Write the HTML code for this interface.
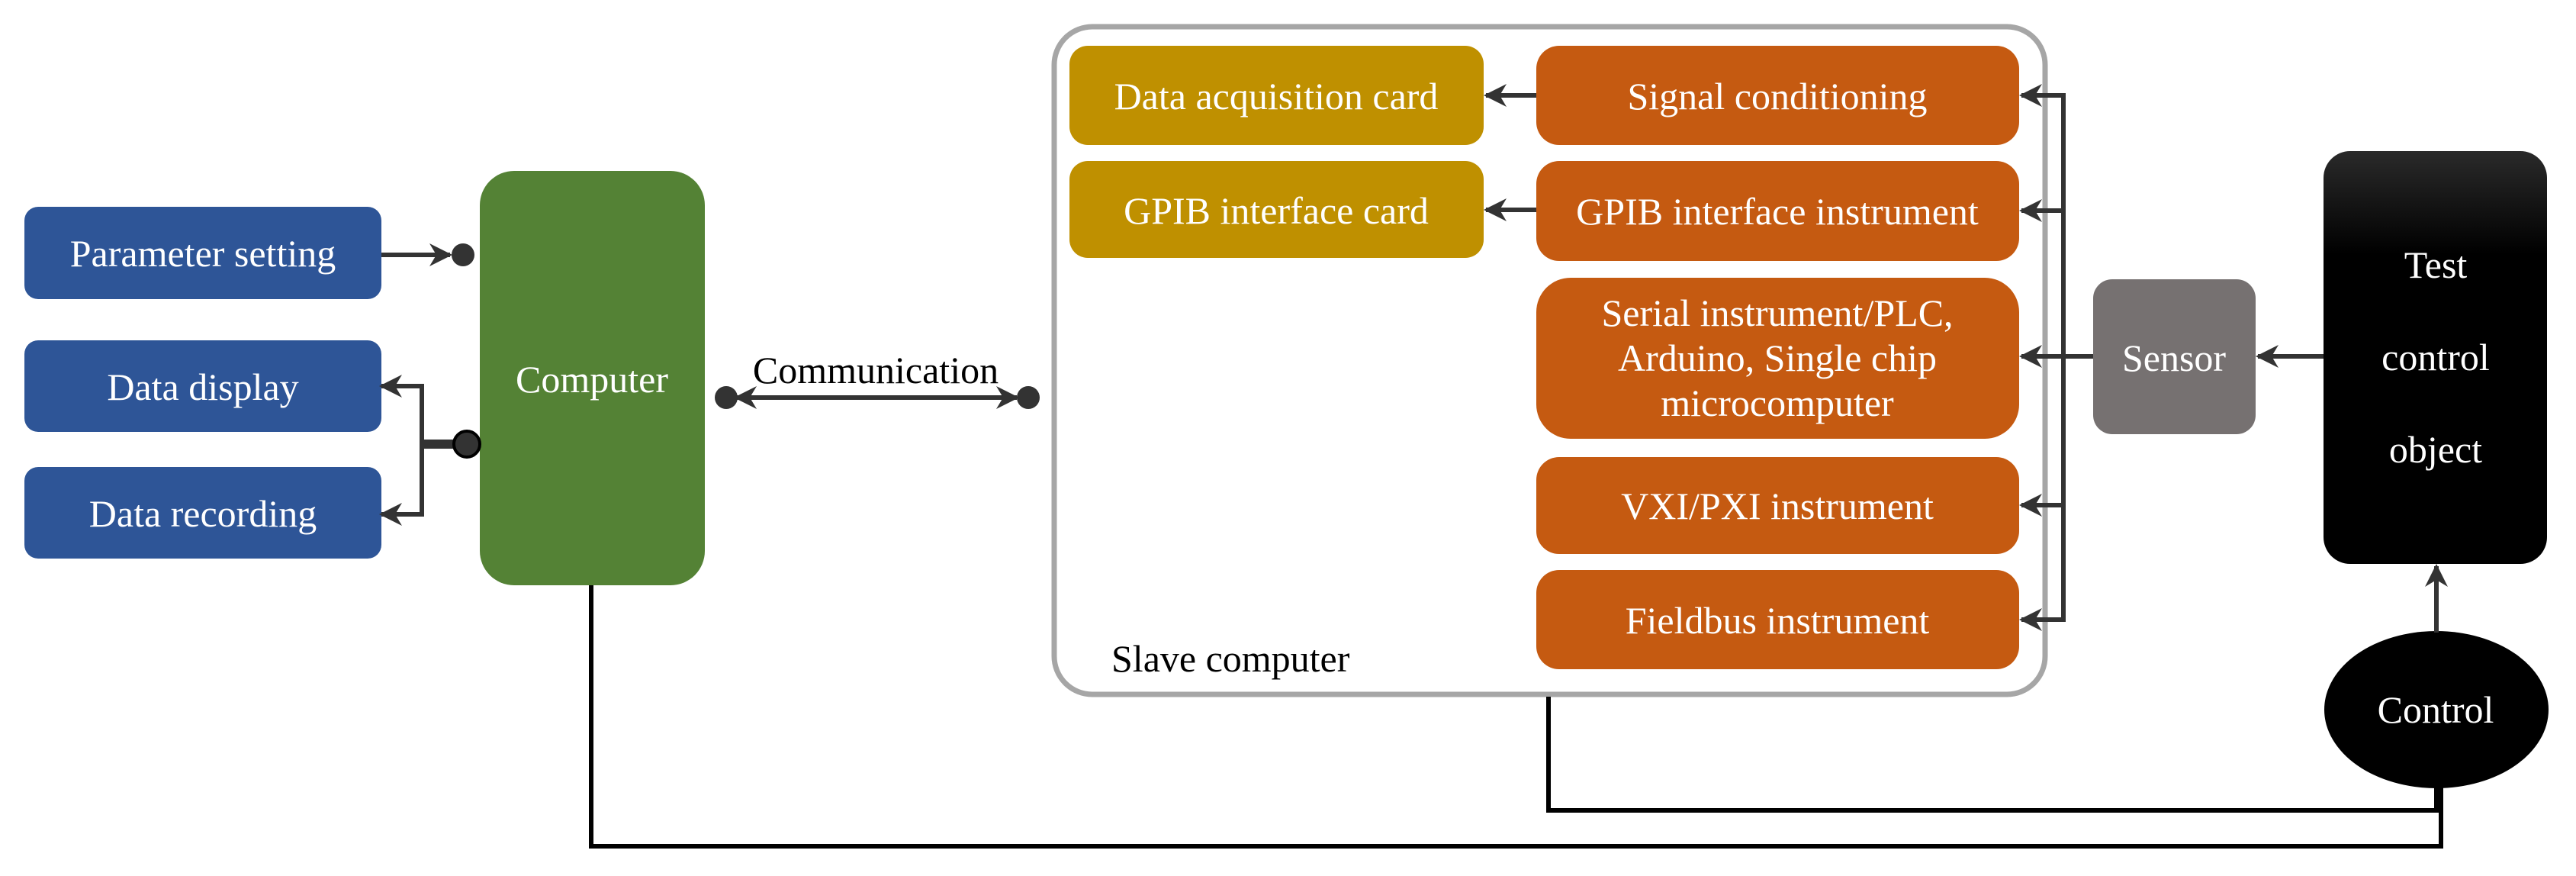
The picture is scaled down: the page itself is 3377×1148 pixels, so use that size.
<!DOCTYPE html>
<html><head><meta charset="utf-8"><style>body{margin:0;background:#fff}svg{display:block}text{font-family:"Liberation Serif","DejaVu Serif Condensed","DejaVu Serif",serif}</style></head><body>
<svg width="3377" height="1148" viewBox="0 0 3377 1148" xmlns="http://www.w3.org/2000/svg">
<defs>
<marker id="a" viewBox="0 0 10 10" refX="9" refY="5" markerWidth="5" markerHeight="5" orient="auto-start-reverse"><path d="M0,0 L10,5 L0,10 L3,5 z" fill="#333"/></marker>
<linearGradient id="g" x1="0" y1="0" x2="0" y2="1"><stop offset="0" stop-color="#2a2a2a"/><stop offset="0.25" stop-color="#000"/><stop offset="1" stop-color="#000"/></linearGradient>
</defs>
<g fill="#2E5597">
<rect x="32" y="271" width="468" height="121" rx="18"/>
<rect x="32" y="446" width="468" height="120" rx="18"/>
<rect x="32" y="612" width="468" height="120" rx="18"/>
</g>
<rect x="629" y="224" width="295" height="543" rx="45" fill="#548235"/>
<rect x="1382" y="35" width="1299" height="875" rx="50" fill="#fff" stroke="#A6A6A6" stroke-width="7"/>
<g fill="#BF9000">
<rect x="1402" y="60" width="543" height="130" rx="24"/>
<rect x="1402" y="211" width="543" height="127" rx="24"/>
</g>
<g fill="#C55A11">
<rect x="2014" y="60" width="633" height="130" rx="30"/>
<rect x="2014" y="211" width="633" height="131" rx="30"/>
<rect x="2014" y="364" width="633" height="211" rx="45"/>
<rect x="2014" y="599" width="633" height="127" rx="30"/>
<rect x="2014" y="747" width="633" height="130" rx="30"/>
</g>
<rect x="2744" y="366" width="213" height="203" rx="25" fill="#767171"/>
<rect x="3046" y="198" width="293" height="541" rx="35" fill="url(#g)"/>
<ellipse cx="3194" cy="930" rx="147" ry="103" fill="#000"/>

<g stroke="#333" stroke-width="6" fill="none">
<line x1="500" y1="334" x2="590" y2="334" marker-end="url(#a)"/>
<polyline points="500,506 553,506 553,674 500,674" marker-start="url(#a)" marker-end="url(#a)"/>
<line x1="553" y1="582" x2="600" y2="582" stroke-width="12"/>
<line x1="965" y1="521" x2="1333" y2="521" marker-start="url(#a)" marker-end="url(#a)"/>
<line x1="2014" y1="125" x2="1948" y2="125" marker-end="url(#a)"/>
<line x1="2014" y1="275" x2="1948" y2="275" marker-end="url(#a)"/>
<line x1="2705" y1="122" x2="2705" y2="815"/>
<line x1="2705" y1="125" x2="2650" y2="125" marker-end="url(#a)"/>
<line x1="2705" y1="276" x2="2650" y2="276" marker-end="url(#a)"/>
<line x1="2744" y1="467" x2="2650" y2="467" marker-end="url(#a)"/>
<line x1="2705" y1="662" x2="2650" y2="662" marker-end="url(#a)"/>
<line x1="2705" y1="812" x2="2650" y2="812" marker-end="url(#a)"/>
<line x1="3046" y1="467" x2="2960" y2="467" marker-end="url(#a)"/>
<line x1="3194" y1="829" x2="3194" y2="742" marker-end="url(#a)"/>
</g>
<g stroke="#000" stroke-width="6" fill="none">
<polyline points="2030,913 2030,1062 3194,1062 3194,1030"/>
<polyline points="775,767 775,1109 3200,1109 3200,1030"/>
</g>
<g fill="#333">
<circle cx="607" cy="334" r="15"/>
<circle cx="612" cy="582" r="17" stroke="#000" stroke-width="4"/>
<circle cx="952" cy="521" r="15"/>
<circle cx="1348" cy="521" r="15"/>
</g>
<g fill="#fff" font-size="50" text-anchor="middle">
<text x="266" y="349">Parameter setting</text>
<text x="266" y="524">Data display</text>
<text x="266" y="690">Data recording</text>
<text x="776" y="514">Computer</text>
<text x="1673" y="143">Data acquisition card</text>
<text x="1673" y="293">GPIB interface card</text>
<text x="2330" y="143">Signal conditioning</text>
<text x="2330" y="294">GPIB interface instrument</text>
<text x="2330" y="427">Serial instrument/PLC,</text>
<text x="2330" y="486">Arduino, Single chip</text>
<text x="2330" y="545">microcomputer</text>
<text x="2330" y="680">VXI/PXI instrument</text>
<text x="2330" y="830">Fieldbus instrument</text>
<text x="2850" y="486">Sensor</text>
<text x="3193" y="364">Test</text>
<text x="3193" y="485">control</text>
<text x="3193" y="606">object</text>
<text x="3193" y="947">Control</text>
</g>
<g fill="#000" font-size="50">
<text x="1148" y="502" text-anchor="middle">Communication</text>
<text x="1457" y="880">Slave computer</text>
</g>
</svg>
</body></html>
